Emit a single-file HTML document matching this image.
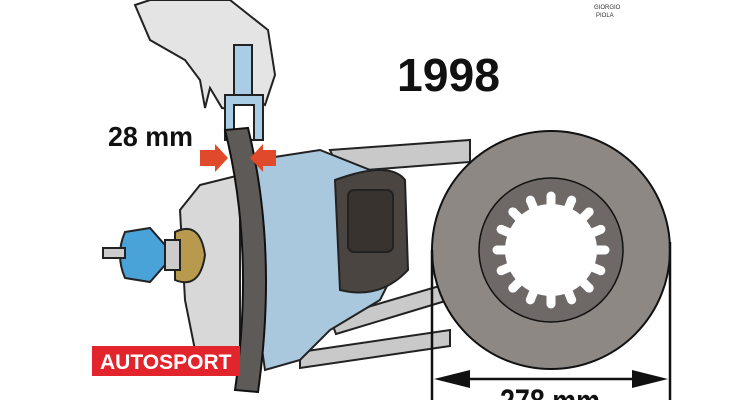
<!DOCTYPE html>
<html><head><meta charset="utf-8"><style>
body{margin:0;background:#fff;width:750px;height:400px;overflow:hidden}
svg{display:block}
</style></head><body>
<svg width="750" height="400" viewBox="0 0 750 400" xmlns="http://www.w3.org/2000/svg" font-family="Liberation Sans, sans-serif">
<defs>
<g id="tooth"><rect x="-4.5" y="-55" width="9" height="12"/><circle cx="0" cy="-54" r="4.5"/></g>
</defs>
<rect width="750" height="400" fill="#fff"/>
<g stroke="#222" stroke-width="2" fill="#c9c9c9">
<path d="M330 150 L470 140 L470 162 L340 172 Z"/>
<path d="M330 318 L460 280 L462 296 L336 334 Z"/>
<path d="M300 352 L450 330 L450 346 L300 368 Z"/>
</g>
<path d="M135 5 L150 0 L230 0 L268 30 L275 75 L265 105 L248 92 L240 110 L222 108 L210 88 L205 108 L200 80 L185 60 L150 40 Z" fill="#e4e4e4" stroke="#222" stroke-width="2"/>
<rect x="234" y="45" width="18" height="50" fill="#a9cde4" stroke="#222" stroke-width="2"/>
<rect x="225" y="95" width="38" height="45" fill="#a9cde4" stroke="#222" stroke-width="2"/>
<rect x="234" y="105" width="20" height="35" fill="#fff" stroke="#222" stroke-width="2"/>
<path d="M200 185 L240 175 L240 355 L195 350 L185 300 L180 210 Z" fill="#d8d8d8" stroke="#222" stroke-width="2"/>
<path d="M255 160 L320 150 L370 170 L395 200 L400 260 L380 300 L330 330 L300 360 L265 370 L255 300 Z" fill="#a9c8de" stroke="#222" stroke-width="2"/>
<path d="M335 180 Q390 160 405 180 L408 270 Q380 300 340 290 Z" fill="#4b4542" stroke="#222" stroke-width="2"/>
<rect x="348" y="190" width="45" height="62" rx="6" fill="#39332f" stroke="#222" stroke-width="2"/>
<path d="M175 232 Q200 220 205 255 Q200 290 175 280 Z" fill="#b79a4e" stroke="#222" stroke-width="2"/>
<rect x="165" y="240" width="15" height="30" fill="#ccc" stroke="#222" stroke-width="2"/>
<path d="M125 232 L150 228 L165 245 L165 265 L150 282 L125 278 Q115 255 125 232 Z" fill="#4aa3d8" stroke="#222" stroke-width="2"/>
<rect x="103" y="248" width="22" height="10" fill="#ccc" stroke="#222" stroke-width="2"/>
<path d="M225 130 Q255 250 235 390 L258 392 Q278 250 248 128 Z" fill="#5e5a58" stroke="#111" stroke-width="2"/>
<path d="M200 150 L215 150 L215 144 L228 158 L215 172 L215 166 L200 166 Z" fill="#e04a2b"/>
<path d="M276 150 L263 150 L263 144 L250 158 L263 172 L263 166 L276 166 Z" fill="#e04a2b"/>
<text x="108" y="146" font-size="28" font-weight="bold" fill="#111" textLength="85" lengthAdjust="spacingAndGlyphs">28 mm</text>
<text x="397" y="91" font-size="46" font-weight="bold" fill="#111" textLength="103" lengthAdjust="spacingAndGlyphs">1998</text>
<text x="594" y="9" font-size="6" fill="#333">GIORGIO</text>
<text x="596" y="17" font-size="6" fill="#333">PIOLA</text>
<rect x="92" y="346" width="148" height="30" fill="#e2242c"/>
<text x="100" y="369" font-size="21" font-weight="bold" fill="#fff">AUTOSPORT</text>
<circle cx="551" cy="250" r="119" fill="#8e8885" stroke="#111" stroke-width="2"/>
<circle cx="551" cy="250" r="72" fill="#6e6866" stroke="#111" stroke-width="1.5"/>
<g fill="#fff" transform="translate(551 250)">
<circle cx="0" cy="0" r="46"/>
<use href="#tooth"/><use href="#tooth" transform="rotate(22.5)"/>
<use href="#tooth" transform="rotate(45)"/><use href="#tooth" transform="rotate(67.5)"/>
<use href="#tooth" transform="rotate(90)"/><use href="#tooth" transform="rotate(112.5)"/>
<use href="#tooth" transform="rotate(135)"/><use href="#tooth" transform="rotate(157.5)"/>
<use href="#tooth" transform="rotate(180)"/><use href="#tooth" transform="rotate(202.5)"/>
<use href="#tooth" transform="rotate(225)"/><use href="#tooth" transform="rotate(247.5)"/>
<use href="#tooth" transform="rotate(270)"/><use href="#tooth" transform="rotate(292.5)"/>
<use href="#tooth" transform="rotate(315)"/><use href="#tooth" transform="rotate(337.5)"/>
</g>
<g stroke="#111" stroke-width="2.5">
<line x1="432" y1="250" x2="432" y2="400"/>
<line x1="670" y1="242" x2="670" y2="400"/>
<line x1="445" y1="379" x2="657" y2="379"/>
</g>
<path d="M434 379 L470 370 L470 388 Z" fill="#111"/>
<path d="M668 379 L632 370 L632 388 Z" fill="#111"/>
<text x="500" y="412" font-size="32" font-weight="bold" fill="#111" textLength="100" lengthAdjust="spacingAndGlyphs">278 mm</text>
</svg>
</body></html>
